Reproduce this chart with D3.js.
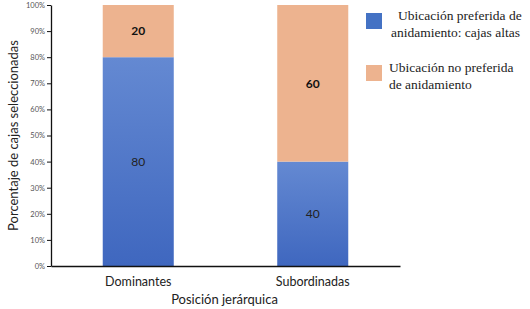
<!DOCTYPE html>
<html>
<head>
<meta charset="utf-8">
<script src="https://cdn.jsdelivr.net/npm/d3@7"></script>
<style>
  body { margin: 0; background: #fff; }
  svg { display: block; }
</style>
</head>
<body>
<div class="graph"></div>
<script>
const categories = ['Dominantes', 'Subordinadas'];
const preferida = [80, 40];      // % cajas altas
const noPreferida = [20, 60];    // % otras
const yTicks = [0, 10, 20, 30, 40, 50, 60, 70, 80, 90, 100];
const legendLabels = [
  ['Ubicación preferida de', 'anidamiento: cajas altas'],
  ['Ubicación no preferida', 'de anidamiento']
];

const svgDim = { w: 530, h: 309 };
const plot = { left: 51, right: 400, top: 5, bottom: 266 };
const colors = { blue: '#4472C4', orange: '#EDB38F' };
const sans = 'Lato, "Open Sans", sans-serif';

const svg = d3.select('.graph').append('svg')
    .attr('width', svgDim.w).attr('height', svgDim.h);

// gradient for blue bars
const defs = svg.append('defs');
const grad = defs.append('linearGradient').attr('id', 'blueGrad')
    .attr('x1', 0).attr('y1', 0).attr('x2', 0).attr('y2', 1);
grad.append('stop').attr('offset', '0%').attr('stop-color', '#6489D2');
grad.append('stop').attr('offset', '100%').attr('stop-color', '#3F67BF');

const p = 0.593;
const xScale = d3.scaleBand()
    .domain(categories)
    .range([plot.left, plot.right])
    .paddingInner(p).paddingOuter(p / 2);
const yScale = d3.scaleLinear()
    .domain([0, 100])
    .range([plot.bottom, plot.top]);

const stacked = categories.map((c, i) => ({
  cat: c, low: preferida[i], high: noPreferida[i]
}));

// blue segment
svg.selectAll('rect.low')
    .data(stacked).enter().append('rect')
    .attr('class', 'low')
    .attr('x', d => xScale(d.cat))
    .attr('width', xScale.bandwidth())
    .attr('y', d => yScale(d.low))
    .attr('height', d => yScale(0) - yScale(d.low))
    .attr('fill', 'url(#blueGrad)');

// orange segment
svg.selectAll('rect.high')
    .data(stacked).enter().append('rect')
    .attr('class', 'high')
    .attr('x', d => xScale(d.cat))
    .attr('width', xScale.bandwidth())
    .attr('y', d => yScale(d.low + d.high))
    .attr('height', d => yScale(d.low) - yScale(d.low + d.high))
    .attr('fill', colors.orange);

// value labels
svg.selectAll('text.lowLbl')
    .data(stacked).enter().append('text')
    .attr('x', d => xScale(d.cat) + xScale.bandwidth() / 2)
    .attr('y', d => yScale(d.low / 2))
    .attr('dy', '0.35em')
    .attr('text-anchor', 'middle')
    .style('font-family', sans)
    .style('font-size', '12px')
    .attr('fill', '#222')
    .text(d => d.low);

svg.selectAll('text.highLbl')
    .data(stacked).enter().append('text')
    .attr('x', d => xScale(d.cat) + xScale.bandwidth() / 2)
    .attr('y', d => yScale(d.low + d.high / 2))
    .attr('dy', '0.35em')
    .attr('text-anchor', 'middle')
    .style('font-family', sans)
    .style('font-size', '12px')
    .style('font-weight', 'bold')
    .attr('fill', '#111')
    .text(d => d.high);

// axes
const yAxis = d3.axisLeft(yScale).tickValues(yTicks)
    .tickFormat(d => d + '%').tickSize(4).tickSizeOuter(0);
const yG = svg.append('g').attr('transform', `translate(${plot.left},0)`).call(yAxis);
yG.select('.domain').attr('stroke', '#111').attr('stroke-width', 1.3);
yG.selectAll('.tick line').attr('stroke', '#111');
yG.selectAll('.tick text')
    .style('font-family', sans)
    .style('font-size', '7.5px').attr('fill', '#555').attr('x', -6);

const xAxis = d3.axisBottom(xScale).tickSize(0).tickSizeOuter(0);
const xG = svg.append('g').attr('transform', `translate(0,${plot.bottom})`).call(xAxis);
xG.select('.domain').attr('stroke', '#111').attr('stroke-width', 1.3);
xG.selectAll('.tick text')
    .style('font-family', sans)
    .style('font-size', '12.5px').attr('fill', '#222').attr('dy', '1.05em').attr('y', 7);

// axis titles
svg.append('text')
    .attr('x', (plot.left + plot.right) / 2 - 1).attr('y', 304)
    .attr('text-anchor', 'middle')
    .style('font-family', sans)
    .style('font-size', '13px').attr('fill', '#222')
    .text('Posición jerárquica');

svg.append('text')
    .attr('transform', `translate(13,${(plot.top + plot.bottom) / 2}) rotate(-90)`)
    .attr('text-anchor', 'middle')
    .attr('dy', '0.35em')
    .style('font-family', sans)
    .style('font-size', '13px').attr('fill', '#222')
    .text('Porcentaje de cajas seleccionadas');

// legend
const legendColors = [colors.blue, colors.orange];
const lineX = [[32, 25], [23, 23]];
const lg = svg.selectAll('g.legend')
    .data(legendLabels).enter().append('g')
    .attr('class', 'legend')
    .attr('transform', (d, i) => `translate(366,${13 + i * 52})`);
lg.append('rect')
    .attr('width', 16).attr('height', 16)
    .attr('fill', (d, i) => legendColors[i]);
lg.each(function (lines, i) {
  const t = d3.select(this).append('text')
      .style('font-family', 'Liberation Serif, serif')
      .style('font-size', '13.5px').attr('fill', '#222');
  lines.forEach((l, j) => {
    t.append('tspan')
        .attr('x', lineX[i][j])
        .attr('y', 7 + j * 17)
        .text(l);
  });
});
</script>
</body>
</html>
